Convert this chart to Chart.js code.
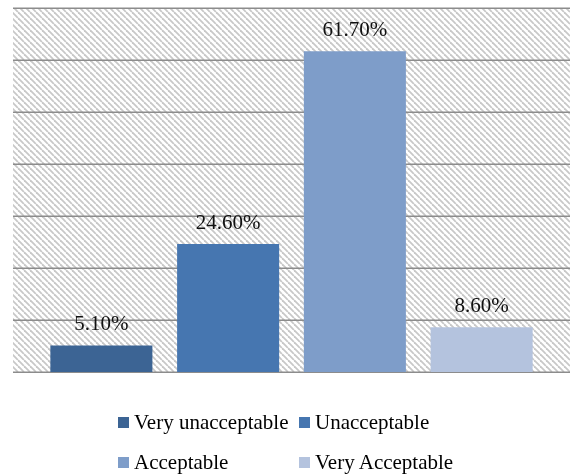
<!DOCTYPE html>
<html>
<head>
<meta charset="utf-8">
<script src="https://cdn.jsdelivr.net/npm/chart.js@4"></script>
<style>
  html, body { margin: 0; padding: 0; background: #fff; }
  #wrap { position: relative; width: 570px; height: 474px; overflow: hidden; }
  #legend { position: absolute; left: 118px; top: 402px; font-family: 'Liberation Serif', 'Times New Roman', serif; font-size: 21px; color: #000; }
  .row { display: flex; height: 40px; align-items: center; }
  .item { display: flex; align-items: center; width: 181px; white-space: nowrap; }
  .box { width: 11px; height: 11px; margin-right: 5px; flex: none; }
</style>
</head>
<body>
<div id="wrap">
  <canvas id="c" width="570" height="474"></canvas>
  <div id="legend"></div>
</div>
<script>
const categories = ['Very unacceptable', 'Unacceptable', 'Acceptable', 'Very Acceptable'];
const values = [5.1, 24.6, 61.7, 8.6];
const colors = ['#3c6494', '#4676b0', '#7e9dc9', '#b4c3de'];
const yMax = 70;
const yStep = 10;

function hatch() {
    const s = 6;
    const p = document.createElement('canvas');
    p.width = s; p.height = s;
    const g = p.getContext('2d');
    g.fillStyle = '#fff';
    g.fillRect(0, 0, s, s);
    g.strokeStyle = '#c8c8c8';
    g.lineWidth = 1.8;
    for (let k = -1; k <= 1; k++) {
        g.beginPath();
        g.moveTo(k * s, 0);
        g.lineTo(k * s + s, s);
        g.stroke();
    }
    return g.createPattern(p, 'repeat');
}

// background hatch + grid, wider than the category band
const backdrop = {
    id: 'backdrop',
    beforeDatasetsDraw(chart) {
        const { ctx, chartArea: a, scales: { y } } = chart;
        const x0 = 13, x1 = chart.width;
        ctx.save();
        ctx.fillStyle = hatch();
        ctx.fillRect(x0, a.top, x1 - x0, a.bottom - a.top);
        ctx.strokeStyle = '#8c8c8c';
        ctx.lineWidth = 1.5;
        for (let v = 0; v <= yMax; v += yStep) {
            const py = Math.round(y.getPixelForValue(v)) + 0.25;
            ctx.beginPath();
            ctx.moveTo(x0, py);
            ctx.lineTo(x1, py);
            ctx.stroke();
        }
        ctx.restore();
    }
};

const valueLabels = {
    id: 'valueLabels',
    afterDatasetsDraw(chart) {
        const { ctx } = chart;
        const meta = chart.getDatasetMeta(0);
        ctx.save();
        ctx.font = '21px "Liberation Serif", "Times New Roman", serif';
        ctx.fillStyle = '#111';
        ctx.textAlign = 'center';
        ctx.textBaseline = 'alphabetic';
        meta.data.forEach((bar, i) => {
            ctx.fillText(values[i].toFixed(2) + '%', bar.x, bar.y - 15);
        });
        ctx.restore();
    }
};

new Chart(document.getElementById('c'), {
    type: 'bar',
    data: {
        labels: categories,
        datasets: [{
            data: values,
            backgroundColor: colors,
            borderWidth: 0,
            categoryPercentage: 1,
            barPercentage: 0.805
        }]
    },
    options: {
        responsive: false,
        animation: false,
        layout: { padding: { left: 38, right: 25, top: 8, bottom: 102 } },
        plugins: { legend: { display: false }, tooltip: { enabled: false } },
        scales: {
            x: { display: false },
            y: { display: false, min: 0, max: yMax, ticks: { stepSize: yStep } }
        }
    },
    plugins: [backdrop, valueLabels]
});

// two-column legend like the original
const legend = document.getElementById('legend');
for (let r = 0; r < categories.length; r += 2) {
    const row = document.createElement('div');
    row.className = 'row';
    for (let i = r; i < r + 2 && i < categories.length; i++) {
        const item = document.createElement('div');
        item.className = 'item';
        item.innerHTML = '<span class="box" style="background:' + colors[i] + '"></span><span>' + categories[i] + '</span>';
        row.appendChild(item);
    }
    legend.appendChild(row);
}
</script>
</body>
</html>
